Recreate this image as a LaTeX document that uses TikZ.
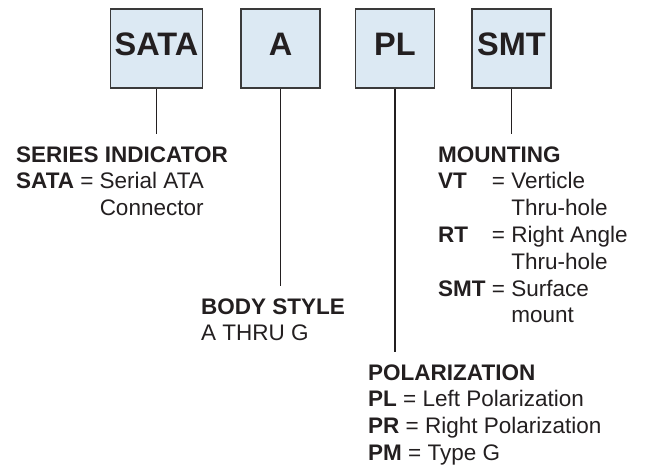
\documentclass[tikz,border=0pt]{standalone}
\usepackage{fontspec}
\setmainfont{Liberation Sans}

\definecolor{boxblue}{HTML}{DCE9F3}
\definecolor{boxedge}{HTML}{3A3A3A}
\definecolor{ink}{HTML}{231F20}

\begin{document}
\begin{tikzpicture}[x=1pt, y=-1pt,
    codebox/.style={draw=boxedge, line width=1.1pt, fill=boxblue,
        minimum width=79pt, minimum height=79pt, inner sep=4.25pt,
        text height=23.3pt, text depth=9.1pt, text=ink,
        font=\fontsize{32.5}{32.5}\selectfont\bfseries},
    legend/.style={anchor=north west, inner sep=0pt, text=ink,
        font=\fontsize{22.5}{26.8}\selectfont},
    leader/.style={draw=ink, line width=1.8pt, shorten >=9pt}]
    \useasboundingbox (0,0) rectangle (646,464);

    % part number boxes
    \foreach \name/\x/\txt in {bsata/156.5/SATA, bbody/280.5/A, bpol/395/PL, bmnt/511.5/SMT}
        \node[codebox] (\name) at (\x,48.5) {\txt};

    % legends
    \node[legend] (lseries) at (16,143.2) {\begin{tabular}[t]{@{}l@{\ }l@{\ }l@{}}
        \multicolumn{3}{@{}l@{}}{\bfseries SERIES INDICATOR}\\
        \bfseries SATA & = & Serial ATA\\
        & & Connector
    \end{tabular}};
    \node[legend] (lbody) at (201,295.2) {\begin{tabular}[t]{@{}l@{}}
        \bfseries BODY STYLE\\
        A THRU G
    \end{tabular}};
    \node[legend] (lpol) at (368,361.2) {\begin{tabular}[t]{@{}l@{}}
        \bfseries POLARIZATION\\
        \textbf{PL} = Left Polarization\\
        \textbf{PR} = Right Polarization\\
        \textbf{PM} = Type G
    \end{tabular}};
    \node[legend] (lmnt) at (438,143.2) {\begin{tabular}[t]{@{}l@{\ }l@{\ }l@{}}
        \multicolumn{3}{@{}l@{}}{\bfseries MOUNTING}\\
        \bfseries VT & = & Verticle\\
        & & Thru-hole\\
        \bfseries RT & = & Right Angle\\
        & & Thru-hole\\
        \bfseries SMT & = & Surface\\
        & & mount
    \end{tabular}};

    % leaders
    \foreach \src/\dst in {bsata/lseries, bbody/lbody, bpol/lpol, bmnt/lmnt}
        \draw[leader] (\src.south) -- (\src.south |- \dst.north);
\end{tikzpicture}
\end{document}
